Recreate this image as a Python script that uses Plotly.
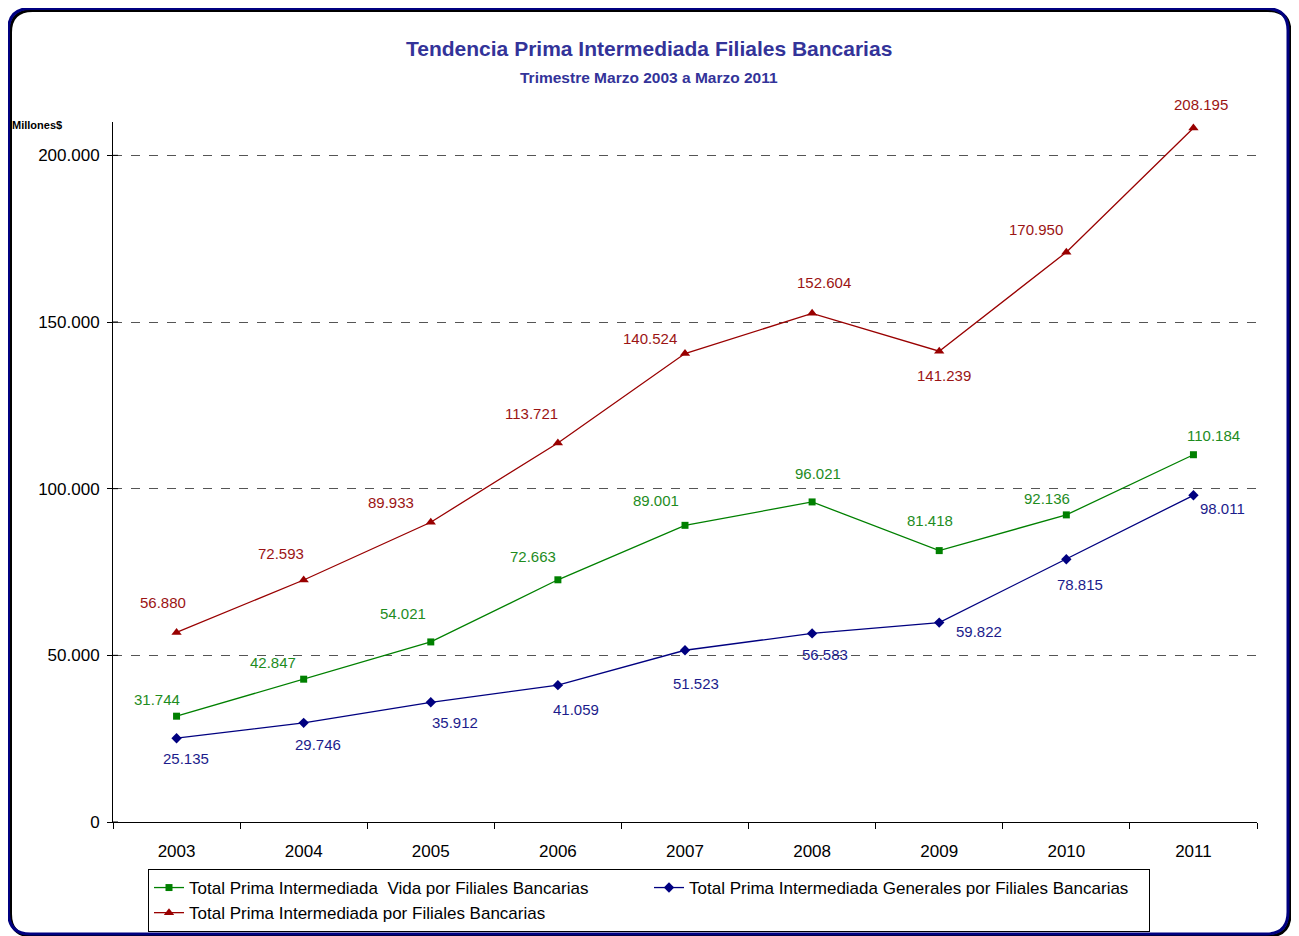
import plotly.graph_objects as go

years = ["2003", "2004", "2005", "2006", "2007", "2008", "2009", "2010", "2011"]
vida = [31744, 42847, 54021, 72663, 89001, 96021, 81418, 92136, 110184]
generales = [25135, 29746, 35912, 41059, 51523, 56583, 59822, 78815, 98011]
total = [56880, 72593, 89933, 113721, 140524, 152604, 141239, 170950, 208195]

y_ticks = [0, 50000, 100000, 150000, 200000]

name_vida = "Total Prima Intermediada  Vida por Filiales Bancarias"
name_gen = "Total Prima Intermediada Generales por Filiales Bancarias"
name_tot = "Total Prima Intermediada por Filiales Bancarias"

# label offsets in pixels (dx right, dy down)
off_tot = [(-14, -30), (-23, -27), (-40, -20), (-26, -29), (-35, -15), (12, -31), (5, 24), (-30, -23), (8, -24)]
off_vida = [(-20, -17), (-31, -17), (-28, -28), (-25, -23), (-29, -25), (6, -28), (-9, -30), (-19, -16), (20, -19)]
off_gen = [(9, 20), (14, 22), (24, 20), (18, 24), (11, 33), (13, 21), (40, 9), (14, 25), (29, 13)]

PAGE = 8  # body margin of the html page
W, H = 1299 - 2 * PAGE, 936 - PAGE
# plot area in screen pixels
L, R, T, B = 113, 1257, 122, 822


def px(x):
    return (x - L) / (R - L)


def py(y):
    return (B - y) / (B - T)


def fmt(v):
    return f"{v:,}".replace(",", ".")


FONT = "Liberation Sans, Arial"

red, green, blue = "#990000", "#008000", "#000080"
red_t, green_t, blue_t = "#9B1414", "#1E8C1E", "#1C1C8C"

fig = go.Figure()
fig.add_trace(go.Scatter(x=years, y=vida, name=name_vida, mode="lines+markers",
                         line=dict(color=green, width=1.3),
                         marker=dict(symbol="square", size=7, color=green)))
fig.add_trace(go.Scatter(x=years, y=generales, name=name_gen, mode="lines+markers",
                         line=dict(color=blue, width=1.3),
                         marker=dict(symbol="diamond", size=8, color=blue)))
fig.add_trace(go.Scatter(x=years, y=total, name=name_tot, mode="lines+markers",
                         line=dict(color=red, width=1.3),
                         marker=dict(symbol="triangle-up", size=9, color=red)))

annotations = []
for series, offs, col in [(total, off_tot, red_t), (vida, off_vida, green_t), (generales, off_gen, blue_t)]:
    for i, (v, (dx, dy)) in enumerate(zip(series, offs)):
        annotations.append(dict(x=i, y=v, xref="x", yref="y", text=fmt(v), showarrow=False,
                                xshift=dx, yshift=-dy,
                                font=dict(family=FONT, size=15, color=col)))

annotations.append(dict(x=px(649), y=py(49), xref="paper", yref="paper",
                        text="<b>Tendencia Prima Intermediada Filiales Bancarias</b>",
                        showarrow=False, xanchor="center", yanchor="middle",
                        font=dict(family=FONT, size=21, color="#333399")))
annotations.append(dict(x=px(649), y=py(77), xref="paper", yref="paper",
                        text="<b>Trimestre Marzo 2003 a Marzo 2011</b>",
                        showarrow=False, xanchor="center", yanchor="middle",
                        font=dict(family=FONT, size=15.5, color="#333399")))
annotations.append(dict(x=px(10), y=py(125), xref="paper", yref="paper",
                        text="<b>Millones$</b>", showarrow=False,
                        xanchor="left", yanchor="middle",
                        font=dict(family=FONT, size=11, color="black")))


def rr_path(x0, y0, x1, y1, r):
    pts = [
        f"M {px(x0 + r)},{py(y0)}",
        f"L {px(x1 - r)},{py(y0)}",
        f"Q {px(x1)},{py(y0)} {px(x1)},{py(y0 + r)}",
        f"L {px(x1)},{py(y1 - r)}",
        f"Q {px(x1)},{py(y1)} {px(x1 - r)},{py(y1)}",
        f"L {px(x0 + r)},{py(y1)}",
        f"Q {px(x0)},{py(y1)} {px(x0)},{py(y1 - r)}",
        f"L {px(x0)},{py(y0 + r)}",
        f"Q {px(x0)},{py(y0)} {px(x0 + r)},{py(y0)}",
        "Z",
    ]
    return " ".join(pts)


shapes = [
    dict(type="path", xref="paper", yref="paper", path=rr_path(10.5, 10.5, 1290, 936, 22),
         line=dict(color="black", width=3)),
    dict(type="path", xref="paper", yref="paper", path=rr_path(8.5, 8.5, 1288, 934, 22),
         line=dict(color="#000080", width=3)),
]
# inner half of the crossing y-axis tick marks
for v in y_ticks:
    shapes.append(dict(type="line", xref="paper", yref="y", x0=0, x1=5 / (R - L), y0=v, y1=v,
                       line=dict(color="black", width=1)))

fig.update_layout(
    width=W, height=H,
    margin=dict(l=L - PAGE, r=W - (R - PAGE), t=T - PAGE, b=H - (B - PAGE), autoexpand=False),
    paper_bgcolor="white", plot_bgcolor="white",
    showlegend=True,
    legend=dict(orientation="h", x=px(148), y=py(869), xanchor="left", yanchor="top",
                bordercolor="black", borderwidth=1, bgcolor="white",
                entrywidth=455, entrywidthmode="pixels",
                font=dict(family=FONT, size=17, color="black"),
                itemwidth=30, traceorder="normal"),
    annotations=annotations,
    shapes=shapes,
    xaxis=dict(type="category", categoryorder="array", categoryarray=years,
               range=[-0.5, len(years) - 0.5], showline=True, linecolor="black", linewidth=1,
               ticks="outside", tickson="boundaries", ticklen=6, tickcolor="black",
               showgrid=False, zeroline=False, ticklabelstandoff=14,
               tickfont=dict(family=FONT, size=17, color="black")),
    yaxis=dict(range=[0, 210000], tickvals=y_ticks, ticktext=[fmt(v) for v in y_ticks],
               showline=True, linecolor="black", linewidth=1, ticks="outside", ticklen=5,
               tickcolor="black", showgrid=True, gridcolor="#555555", griddash="dash",
               gridwidth=1, zeroline=False, ticklabelstandoff=4,
               tickfont=dict(family=FONT, size=17, color="black")),
)

fig.write_html("out.html",
               post_script="document.documentElement.style.overflow='hidden';"
                           "document.body.style.overflow='hidden';")
